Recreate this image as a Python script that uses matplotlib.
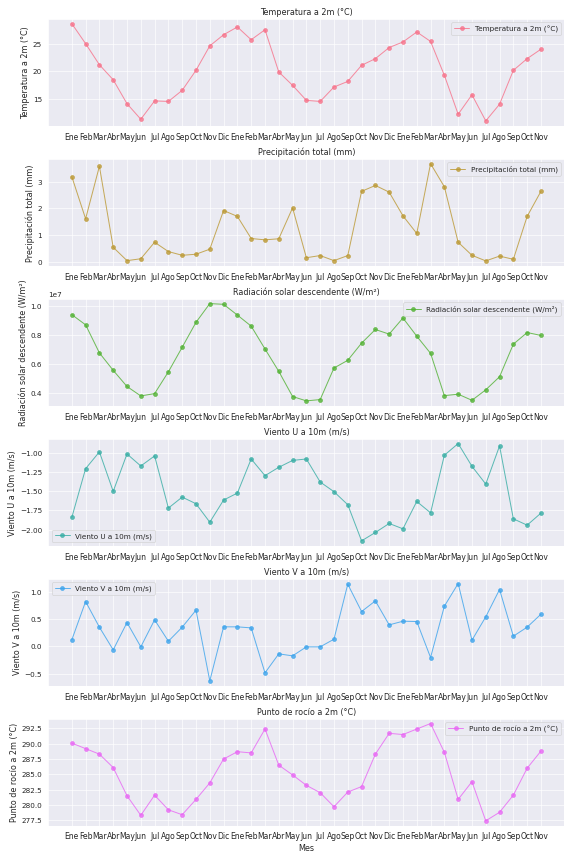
import matplotlib
matplotlib.use("Agg")
import matplotlib.pyplot as plt
import seaborn as sns

sns.set_theme(style="darkgrid")
plt.rcParams['xtick.labelsize'] = 11.5

meses_anio = ['Ene', 'Feb', 'Mar', 'Abr', 'May', 'Jun', 'Jul', 'Ago', 'Sep', 'Oct', 'Nov', 'Dic']
meses = meses_anio + meses_anio + meses_anio[:11]

temperatura = [28.6, 25.0, 21.2, 18.5, 14.2, 11.4, 14.7, 14.6, 16.6, 20.2, 24.6, 26.6,
               28.0, 25.7, 27.5, 19.9, 17.5, 14.8, 14.6, 17.2, 18.2, 21.1, 22.3, 24.3,
               25.3, 27.1, 25.4, 19.3, 12.3, 15.8, 11.1, 14.1, 20.2, 22.3, 24.0]
precipitacion = [3.19, 1.61, 3.58, 0.54, 0.04, 0.11, 0.73, 0.38, 0.24, 0.28, 0.47, 1.92,
                 1.70, 0.87, 0.82, 0.86, 2.02, 0.15, 0.23, 0.04, 0.23, 2.64, 2.86, 2.61,
                 1.72, 1.06, 3.68, 2.81, 0.73, 0.24, 0.03, 0.21, 0.09, 1.70, 2.64]
radiacion = [0.938, 0.868, 0.675, 0.555, 0.444, 0.379, 0.395, 0.545, 0.714, 0.885, 1.014, 1.009,
             0.935, 0.859, 0.702, 0.548, 0.375, 0.345, 0.354, 0.571, 0.624, 0.742, 0.836, 0.804,
             0.915, 0.790, 0.672, 0.381, 0.391, 0.349, 0.421, 0.511, 0.735, 0.815, 0.795]
radiacion = [r * 1e7 for r in radiacion]
viento_u = [-1.842, -1.202, -0.982, -1.500, -1.009, -1.167, -1.035, -1.719, -1.575, -1.662, -1.904, -1.614,
            -1.522, -1.075, -1.294, -1.184, -1.094, -1.075, -1.377, -1.504, -1.675, -2.149, -2.039, -1.921,
            -1.991, -1.632, -1.781, -1.026, -0.873, -1.171, -1.404, -0.904, -1.860, -1.943, -1.785]
viento_v = [0.116, 0.817, 0.348, -0.067, 0.433, -0.012, 0.482, 0.091, 0.348, 0.659, -0.634, 0.354,
            0.354, 0.335, -0.488, -0.140, -0.177, -0.012, -0.012, 0.128, 1.134, 0.634, 0.829, 0.390,
            0.457, 0.451, -0.207, 0.732, 1.146, 0.110, 0.537, 1.037, 0.183, 0.348, 0.585]
punto_rocio = [290.1, 289.2, 288.3, 286.1, 281.5, 278.3, 281.6, 279.2, 278.4, 280.9, 283.6, 287.5,
               288.7, 288.5, 292.4, 286.5, 284.9, 283.2, 282.0, 279.7, 282.1, 283.0, 288.3, 291.7,
               291.5, 292.4, 293.3, 288.6, 280.9, 283.8, 277.4, 278.8, 281.6, 286.0, 288.8]

nombres = ['Temperatura a 2m (°C)', 'Precipitación total (mm)',
           'Radiación solar descendente (W/m²)', 'Viento U a 10m (m/s)',
           'Viento V a 10m (m/s)', 'Punto de rocío a 2m (°C)']
series = [temperatura, precipitacion, radiacion, viento_u, viento_v, punto_rocio]
leyendas = ['upper right', 'upper right', 'upper right', 'lower left', 'upper left', 'upper right']
colores = sns.color_palette("husl", 6)

x = list(range(len(meses)))

fig, axes = plt.subplots(6, 1, figsize=(12, 18))
for ax, nombre, datos, color, loc in zip(axes, nombres, series, colores, leyendas):
    ax.plot(x, datos, marker='o', color=color, label=nombre, alpha=0.8)
    ax.set_title(nombre)
    ax.set_ylabel(nombre)
    ax.set_xticks(x)
    ax.set_xticklabels(meses)
    ax.legend(loc=loc)
axes[-1].set_xlabel('Mes')

fig.tight_layout()
fig.savefig('out.png', dpi=47.75)
